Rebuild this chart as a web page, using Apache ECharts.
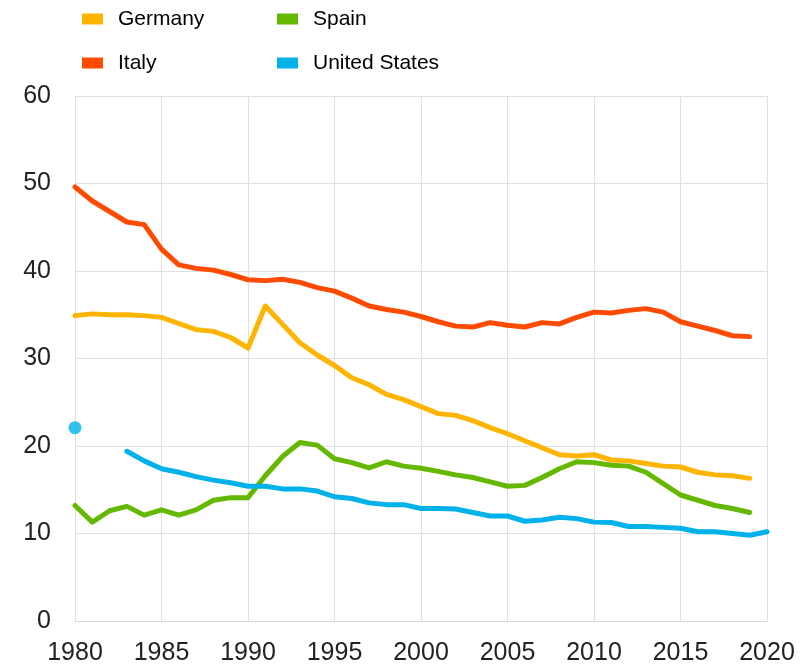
<!DOCTYPE html>
<html>
<head>
<meta charset="utf-8">
<script src="https://cdn.jsdelivr.net/npm/echarts@6/dist/echarts.min.js"></script>
<style>
  html, body { margin: 0; padding: 0; background: #fff; }
  #c { width: 811px; height: 666px; }
</style>
</head>
<body>
<div id="c"></div>
<script>
const years = [];
for (let y = 1980; y <= 2020; y++) years.push(y);

// values, 1980..2020 (null = no data)
const germany = [34.9, 35.1, 35.0, 35.0, 34.9, 34.7, 34.0, 33.3, 33.1, 32.4,
  31.2, 36.0, 33.9, 31.8, 30.4, 29.2, 27.8, 27.0, 25.9, 25.3,
  24.5, 23.7, 23.5, 22.9, 22.1, 21.4, 20.6, 19.8, 19.0, 18.85,
  19.0, 18.4, 18.3, 18.0, 17.7, 17.6, 17.0, 16.7, 16.6, 16.3, null];
const italy = [49.6, 48.0, 46.8, 45.6, 45.3, 42.5, 40.7, 40.3, 40.1, 39.6,
  39.0, 38.9, 39.05, 38.7, 38.1, 37.7, 36.9, 36.0, 35.6, 35.3,
  34.8, 34.2, 33.7, 33.6, 34.1, 33.8, 33.6, 34.1, 33.95, 34.7,
  35.3, 35.2, 35.5, 35.7, 35.3, 34.2, 33.7, 33.2, 32.6, 32.5, null];
const spain = [13.2, 11.3, 12.6, 13.1, 12.1, 12.7, 12.1, 12.7, 13.8, 14.1,
  14.1, 16.6, 18.8, 20.4, 20.1, 18.55, 18.1, 17.5, 18.2, 17.7,
  17.45, 17.1, 16.7, 16.4, 15.9, 15.4, 15.5, 16.4, 17.4, 18.2,
  18.1, 17.8, 17.7, 17.0, 15.7, 14.4, 13.8, 13.2, 12.85, 12.4, null];
const usa = [22.1, null, null, 19.4, 18.3, 17.4, 17.0, 16.5, 16.1, 15.8,
  15.4, 15.4, 15.1, 15.1, 14.85, 14.2, 14.0, 13.5, 13.3, 13.3,
  12.85, 12.85, 12.8, 12.4, 12.0, 12.0, 11.4, 11.55, 11.85, 11.7,
  11.3, 11.25, 10.8, 10.8, 10.7, 10.6, 10.2, 10.2, 10.0, 9.8, 10.2];

const NAMES = ["Germany", "Italy", "Spain", "United States"];
const COLORS = { "Germany": "#ffb400", "Italy": "#ff4b00", "Spain": "#65b800", "United States": "#00b1ea" };
const VALUES = { "Germany": germany, "Italy": italy, "Spain": spain, "United States": usa };

const pairs = arr => years.map((y, i) => [y, arr[i]]);
// points with no neighbours get drawn as a dot
const lonely = arr => years.map((y, i) => [y, arr[i]])
  .filter((p, i) => p[1] != null && arr[i - 1] == null && arr[i + 1] == null);

const FONT = "Liberation Sans, Arial, sans-serif";
const legendBase = {
  orient: "vertical", icon: "rect", itemWidth: 21, itemHeight: 11, itemGap: 6, top: 0, padding: 0,
  selectedMode: false,
  textStyle: { fontFamily: FONT, fontSize: 21, color: "#000", lineHeight: 24, padding: [0, 0, 14, 10] },
};

const series = [];
NAMES.forEach(n => {
  series.push({
    name: n, type: "line", data: pairs(VALUES[n]), showSymbol: false, symbol: "none",
    connectNulls: false, animation: false, silent: true,
    lineStyle: { color: COLORS[n], width: 5, join: "round", cap: "round" },
    itemStyle: { color: COLORS[n] },
  });
  const dots = lonely(VALUES[n]);
  if (dots.length) series.push({
    name: n + "_dot", type: "scatter", data: dots, symbolSize: 13, animation: false, silent: true,
    itemStyle: { color: COLORS[n] },
  });
});

const chart = echarts.init(document.getElementById("c"), null, { renderer: "canvas" });
chart.setOption({
  animation: false,
  legend: [
    Object.assign({}, legendBase, { left: 82, data: ["Germany", "Italy"] }),
    Object.assign({}, legendBase, { left: 277, data: ["Spain", "United States"] }),
  ],
  grid: { left: 75, right: 44, top: 96, bottom: 43, containLabel: false },
  xAxis: {
    type: "value", min: 1980, max: 2020, interval: 5,
    axisLine: { show: true, lineStyle: { color: "#d9d9d9" } },
    axisTick: { show: false },
    axisLabel: { formatter: v => String(v), fontFamily: FONT, fontSize: 25, color: "#222", margin: 20 },
    splitLine: { show: true, lineStyle: { color: "#e0e0e0", width: 1 } },
  },
  yAxis: {
    type: "value", min: 0, max: 60, interval: 10,
    axisLine: { show: false }, axisTick: { show: false },
    axisLabel: { fontFamily: FONT, fontSize: 25, color: "#222", margin: 24 },
    splitLine: { show: true, lineStyle: { color: "#e0e0e0", width: 1 } },
  },
  series,
});
</script>
</body>
</html>
